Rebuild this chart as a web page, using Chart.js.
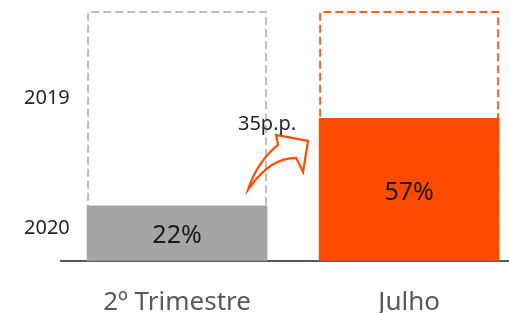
<!DOCTYPE html>
<html>
<head>
<meta charset="utf-8">
<script src="https://cdn.jsdelivr.net/npm/chart.js@4"></script>
<style>
  html, body { margin: 0; padding: 0; background: #fff; overflow: hidden; }
  #wrap { width: 509px; height: 313px; }
</style>
</head>
<body>
<div id="wrap"><canvas id="myChart"></canvas></div>
<script>
// data
const categories = ['2º Trimestre', 'Julho'];
const values2019 = [100, 100];
const values2020 = [22, 57];
const yearLabels = ['2020', '2019'];
const yearTickValues = [13, 65];
const changeLabel = '35p.p.';

const fillColors = ['#a5a5a5', '#ff4b00'];
const dashColors = ['#bfbfbf', '#ff5a23'];
const FONT = "'Noto Sans', sans-serif";

// dashed outline for 2019 (drawn under the 2020 fill)
const dashedOutline = {
  id: 'dashedOutline',
  beforeDatasetsDraw(chart) {
    const ctx = chart.ctx;
    const meta = chart.getDatasetMeta(0);
    ctx.save();
    ctx.lineWidth = 2;
    ctx.setLineDash([8, 4]);
    meta.data.forEach((bar, i) => {
      const left = bar.x - bar.width / 2 + 1;
      const right = bar.x + bar.width / 2 - 1;
      ctx.strokeStyle = dashColors[i];
      ctx.beginPath();
      ctx.moveTo(left, bar.base);
      ctx.lineTo(left, bar.y + 1);
      ctx.lineTo(right, bar.y + 1);
      ctx.lineTo(right, bar.base);
      ctx.stroke();
    });
    ctx.restore();
  }
};

// value labels, arrow and p.p. text
const extras = {
  id: 'extras',
  afterDatasetsDraw(chart) {
    const ctx = chart.ctx;
    const meta = chart.getDatasetMeta(1);
    ctx.save();
    ctx.fillStyle = '#1a1a1a';
    ctx.font = '25px ' + FONT;
    ctx.textAlign = 'center';
    ctx.textBaseline = 'middle';
    meta.data.forEach((bar, i) => {
      ctx.fillText(values2020[i] + '%', bar.x, (bar.y + bar.base) / 2 + 3);
    });

    const b0 = meta.data[0], b1 = meta.data[1];
    const gx = b0.x + b0.width / 2;
    const gy = b0.y;
    const p = (dx, dy) => [gx + dx, gy + dy];

    // curved block arrow (outline only)
    ctx.beginPath();
    ctx.moveTo(...p(-19, -16));
    ctx.quadraticCurveTo(...p(-10, -44), ...p(11, -61));
    ctx.lineTo(...p(9, -71));
    ctx.lineTo(...p(41, -65));
    ctx.lineTo(...p(36, -34));
    ctx.lineTo(...p(29, -48));
    ctx.quadraticCurveTo(...p(4, -48), ...p(-16, -20));
    ctx.closePath();
    ctx.strokeStyle = '#ff4b00';
    ctx.lineWidth = 2.2;
    ctx.lineJoin = 'miter';
    ctx.stroke();

    ctx.fillStyle = '#262626';
    ctx.font = '20px ' + FONT;
    ctx.fillText(changeLabel, gx, b1.y + 6);
    ctx.restore();
  }
};

const ctx = document.getElementById('myChart');
const myChart = new Chart(ctx, {
  type: 'bar',
  data: {
    datasets: [{
      label: '2019',
      data: values2019.map((v, i) => ({ x: i, y: v })),
      backgroundColor: 'rgba(0,0,0,0)',
      borderWidth: 0,
      barThickness: 180,
      grouped: false,
      order: 2
    }, {
      label: '2020',
      data: values2020.map((v, i) => ({ x: i, y: v })),
      backgroundColor: fillColors,
      borderWidth: 0,
      barThickness: 180,
      grouped: false,
      order: 1
    }]
  },
  options: {
    responsive: true,
    maintainAspectRatio: false,
    animation: false,
    layout: { padding: { top: 11, left: 61, right: 0, bottom: -31 } },
    plugins: {
      legend: { display: false },
      tooltip: { enabled: false }
    },
    scales: {
      x: {
        type: 'linear',
        offset: false,
        min: -0.5,
        max: 1.43,
        afterBuildTicks: (axis) => { axis.ticks = categories.map((c, i) => ({ value: i })); },
        ticks: {
          callback: (v) => categories[v],
          color: '#595959',
          font: { family: FONT, size: 26 },
          padding: 26,
          maxRotation: 0,
          autoSkip: false
        },
        grid: { display: false, drawTicks: false },
        border: { display: true, color: '#595959', width: 2 }
      },
      y: {
        min: 0,
        max: 100,
        afterBuildTicks: (axis) => { axis.ticks = yearTickValues.map(v => ({ value: v })); },
        afterFit: (axis) => { axis.width = 0; },
        ticks: {
          callback: (v, i) => yearLabels[i],
          color: '#262626',
          font: { family: FONT, size: 20 },
          mirror: true,
          padding: -37
        },
        grid: { display: false, drawTicks: false },
        border: { display: false }
      }
    }
  },
  plugins: [dashedOutline, extras]
});
</script>
</body>
</html>
